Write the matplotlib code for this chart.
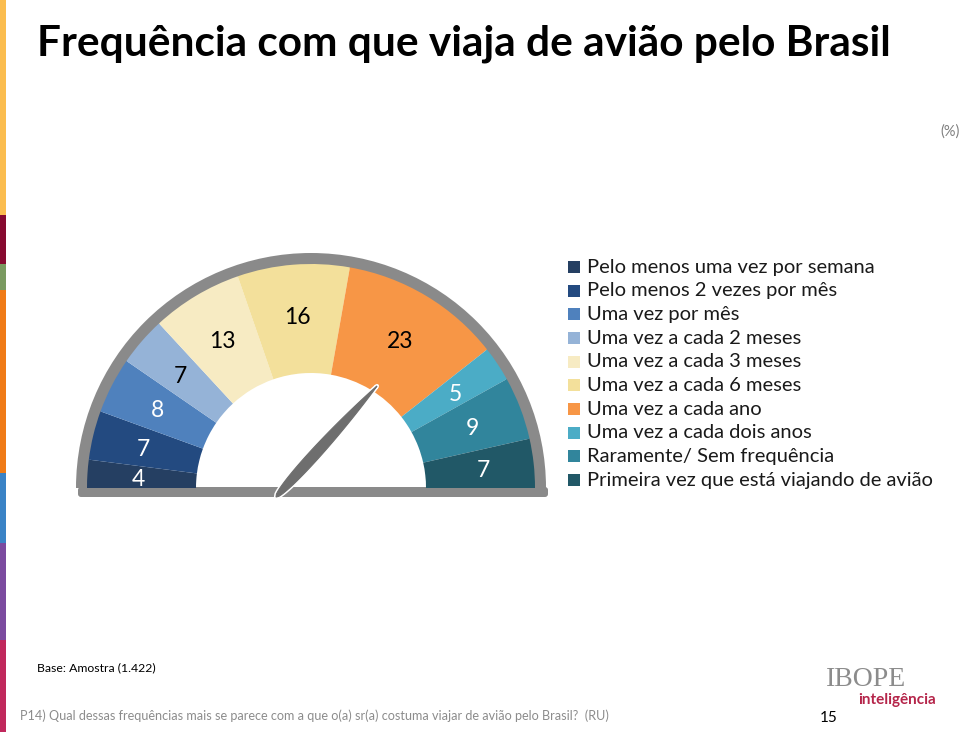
import numpy as np
import matplotlib
matplotlib.use("Agg")
import matplotlib.pyplot as plt
from matplotlib.patches import Wedge, Rectangle, Polygon, FancyBboxPatch

plt.rcParams['font.family'] = ['Lato', 'DejaVu Sans']

# data
categories = [
    "Pelo menos uma vez por semana",
    "Pelo menos 2 vezes por mês",
    "Uma vez por mês",
    "Uma vez a cada 2 meses",
    "Uma vez a cada 3 meses",
    "Uma vez a cada 6 meses",
    "Uma vez a cada ano",
    "Uma vez a cada dois anos",
    "Raramente/ Sem frequência",
    "Primeira vez que está viajando de avião",
]
values = [4, 7, 8, 7, 13, 16, 23, 5, 9, 7]
colors = ["#253f62", "#234a80", "#4f81bd", "#95b3d7", "#f7ebc3",
          "#f3e09b", "#f79646", "#4bacc6", "#31859c", "#215867"]
label_colors = ["white", "white", "white", "black", "black",
                "black", "black", "white", "white", "white"]
strip_colors = ["#fbbd4f", "#870a30", "#7a9a60", "#f07b17", "#3a83c6", "#7b4b9f", "#c0285c"]
strip_edges = [0, 215, 264, 290, 473, 543, 640, 732]

fig = plt.figure(figsize=(9.6, 7.32), dpi=100)
ax = fig.add_axes([0, 0, 1, 1])
ax.set_xlim(0, 960)
ax.set_ylim(732, 0)
ax.set_aspect('equal')
ax.axis('off')

# left colour strip
for c, y0, y1 in zip(strip_colors, strip_edges[:-1], strip_edges[1:]):
    ax.add_patch(Rectangle((0, y0), 6, y1 - y0, color=c, lw=0))

# gauge
cx, cy = 311, 488
r_out, r_in, r_rim = 224, 115, 235
ax.add_patch(Wedge((cx, cy), r_rim, 180, 360, width=r_rim - r_out + 1, color="#8a8a8a", lw=0))
ax.add_patch(FancyBboxPatch((78, 487), 470, 10, boxstyle="round,pad=0,rounding_size=3",
                            color="#8a8a8a", lw=0))

total = sum(values)
cum = np.concatenate([[0], np.cumsum(values)])
for i, v in enumerate(values):
    t1 = 180 + cum[i] / total * 180
    t2 = 180 + cum[i + 1] / total * 180
    ax.add_patch(Wedge((cx, cy), r_out, t1, t2, width=r_out - r_in, color=colors[i], lw=0))
    mid = np.deg2rad((t1 + t2) / 2)
    r_lab = 173
    ax.text(cx + r_lab * np.cos(mid), cy + r_lab * np.sin(mid) + 2, str(v),
            ha='center', va='center', fontsize=16.5, color=label_colors[i])

# needle
base = np.array([276.0, 497.0])
tip = np.array([377.0, 386.0])
axis_v = tip - base
L = np.linalg.norm(axis_v)
u = axis_v / L
n = np.array([-u[1], u[0]])
t = np.linspace(0, 1, 60)
w = 7.0 * np.sqrt(t) * (1 - t) ** 0.9 * 1.9
w = np.maximum(w, 0)
left = base + np.outer(t * L, u) + np.outer(w, n)
right = base + np.outer(t * L, u) - np.outer(w, n)
pts = np.vstack([left, right[::-1]])
ax.add_patch(Polygon(pts, closed=True, facecolor="#6e6e6e", edgecolor="white", lw=3, joinstyle='round'))
ax.add_patch(Polygon(pts, closed=True, facecolor="#6e6e6e", edgecolor="#6e6e6e", lw=0.8))

# legend
ly0, dy = 267, 23.67
for i, (cat, c) in enumerate(zip(categories, colors)):
    y = ly0 + i * dy
    ax.add_patch(Rectangle((568, y - 6), 12, 12, color=c, lw=0))
    ax.text(587, y, cat, ha='left', va='center', fontsize=14.5, color="#1a1a1a")

# texts
ax.text(37, 44, "Frequência com que viaja de avião pelo Brasil", ha='left', va='center',
        fontsize=30.5, fontweight='bold', color="black")
ax.text(960, 132, "(%)", ha='right', va='center', fontsize=10.5, color="#7f7f7f")
ax.text(37, 668, "Base: Amostra (1.422)", ha='left', va='center', fontsize=8.8, color="black")
ax.text(20, 716, "P14) Qual dessas frequências mais se parece com a que o(a) sr(a) costuma viajar de avião pelo Brasil?  (RU)",
        ha='left', va='center', fontsize=9.1, color="#8c8c8c")
ax.text(820, 718, "15", ha='left', va='center', fontsize=11, color="black")
ax.text(826, 679, "IBOPE", ha='left', va='center', fontsize=20, color="#8c8c8c",
        family=['Liberation Serif', 'DejaVu Serif'])
ax.text(858, 700, "inteligência", ha='left', va='center', fontsize=11, fontweight='bold',
        color="#b5254a")

fig.savefig("out.png", dpi=100)
